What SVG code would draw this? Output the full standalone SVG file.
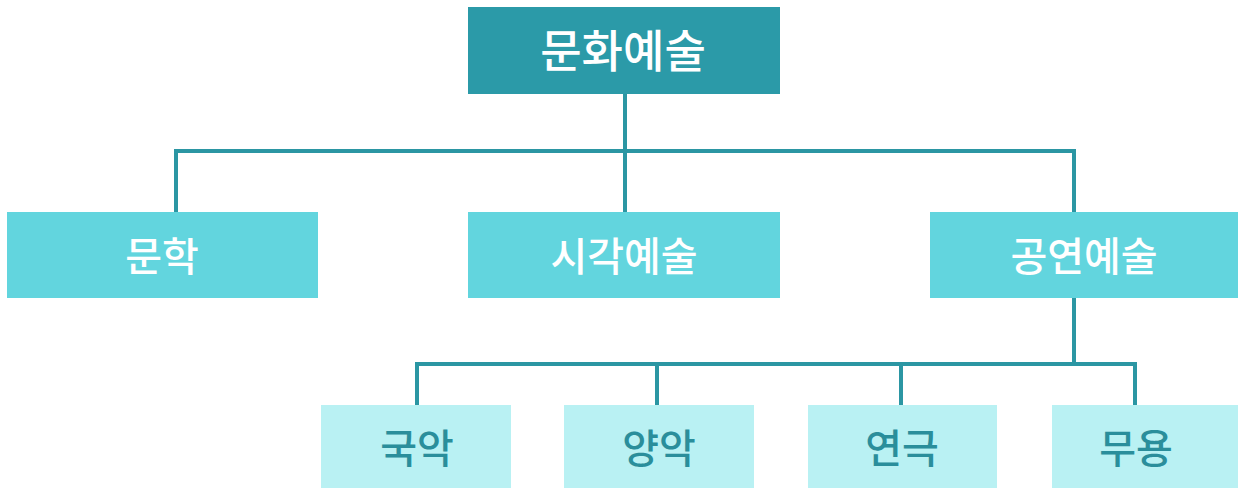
<svg xmlns="http://www.w3.org/2000/svg" width="1238" height="488" viewBox="0 0 1238 488">
<style>
text{font-family:"Noto Sans CJK KR","Noto Sans",sans-serif;font-weight:500;text-anchor:middle;dominant-baseline:central}
.l1{fill:#2B9AA8}
.l2{fill:#62D5DE}
.l3{fill:#B9F1F3}
.t1{fill:#ffffff;font-size:45px}
.t2{fill:#ffffff;font-size:40px}
.t3{fill:#2A8E9B;font-size:40px}
.c{fill:none;stroke:#2B96A3;stroke-width:4}
</style>
<rect width="1238" height="488" fill="#ffffff"/>
<g id="connectors">
<path class="c" d="M625 94V212M176 212V151H1074V212M1074 298V364M417 405V364H1135V405M657 364V405M901 364V405"/>
</g>
<g id="n-root"><rect class="l1" x="468" y="7" width="312" height="87"/><text class="t1" x="623" y="48">문화예술</text></g>
<g id="n-lit"><rect class="l2" x="7" y="212" width="311" height="86"/><text class="t2" x="162" y="254">문학</text></g>
<g id="n-vis"><rect class="l2" x="468" y="212" width="312" height="86"/><text class="t2" x="624" y="254">시각예술</text></g>
<g id="n-perf"><rect class="l2" x="930" y="212" width="308" height="86"/><text class="t2" x="1084" y="254">공연예술</text></g>
<g id="n-guk"><rect class="l3" x="321" y="405" width="190" height="83"/><text class="t3" x="417" y="446">국악</text></g>
<g id="n-yang"><rect class="l3" x="564" y="405" width="190" height="83"/><text class="t3" x="659" y="446">양악</text></g>
<g id="n-yeon"><rect class="l3" x="808" y="405" width="189" height="83"/><text class="t3" x="902" y="446">연극</text></g>
<g id="n-mu"><rect class="l3" x="1052" y="405" width="186" height="83"/><text class="t3" x="1136" y="446">무용</text></g>
</svg>
